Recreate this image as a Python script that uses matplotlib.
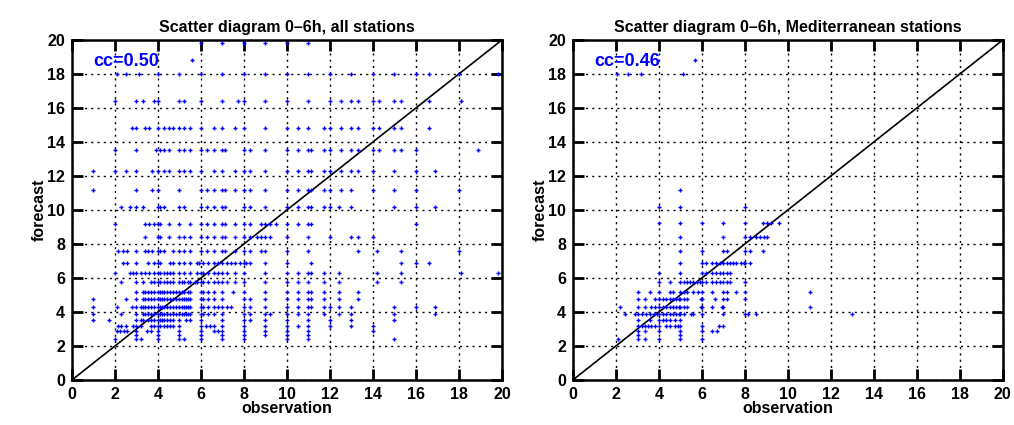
import numpy as np
import matplotlib.pyplot as plt

plt.rcParams['font.family'] = ['Liberation Sans', 'DejaVu Sans']

# forecast levels (rows of points), top to bottom
fc_all = [19.8, 18.8, 18.0, 16.4, 14.85, 13.5, 12.3, 11.2, 10.2, 9.2, 8.4, 7.6,
          6.9, 6.3, 5.75, 5.2, 4.75, 4.3, 3.9, 3.55, 3.2, 2.9, 2.65, 2.4]

# observation values found on each forecast row, all stations
obs_all = [
    [6, 7, 8, 9, 10, 11],
    [5.6],
    [2.1, 2.5, 3.1, 4, 5, 6, 7, 8, 9, 10, 11, 12, 13, 14, 15, 16, 16.6, 18, 19.8],
    [2, 3, 3.3, 3.8, 4, 5, 5.2, 6, 7, 7.7, 8, 9, 10, 11, 12, 12.5, 13, 13.3, 14,
     14.3, 15, 15.3, 16.6, 18.1],
    [2.8, 3, 3.4, 3.6, 4, 4.3, 4.5, 4.7, 5, 5.2, 5.5, 6, 6.6, 7, 7.6, 8, 9, 10,
     10.5, 11, 11.7, 12, 12.5, 13, 13.3, 14, 14.3, 15, 15.3, 16.6],
    [2, 3, 3.9, 4.1, 4.3, 4.5, 5, 5.2, 5.5, 6, 6.3, 6.6, 7, 7.1, 8, 8.3, 9, 10,
     10.5, 11, 11.1, 11.7, 12, 12.5, 13, 13.3, 14, 14.3, 15, 15.3, 16, 18.9],
    [1, 2, 2.5, 3, 3.7, 4, 4.3, 4.5, 5, 5.2, 5.5, 6, 6.6, 7, 7.6, 8, 8.3, 9, 10,
     10.5, 11, 11.1, 11.7, 12, 12.5, 13, 13.3, 14, 15, 16, 16.9],
    [1, 3, 3.7, 4, 5, 6, 6.3, 6.6, 7, 7.1, 7.6, 8, 8.3, 9, 10, 10.5, 11, 11.1,
     11.7, 12, 12.5, 13, 14, 15, 16, 18],
    [2.3, 2.7, 3, 3.3, 4, 4.1, 4.3, 5, 5.2, 6, 6.3, 6.6, 7, 7.1, 8, 8.3, 9, 10,
     10.5, 11, 11.1, 11.7, 12, 12.4, 13, 15, 16, 16.9],
    [2, 3.4, 3.6, 3.8, 4, 4.1, 4.5, 5, 5.5, 6, 6.3, 6.6, 7, 7.1, 7.6, 8, 8.3, 8.8,
     9, 9.2, 9.5, 10, 10.5, 11, 11.1, 16],
    [3.4, 4, 4.1, 4.5, 5, 5.2, 5.5, 6, 6.3, 6.6, 7, 7.1, 7.6, 8, 8.3, 8.6, 8.8, 9,
     9.2, 10, 11, 12, 13, 13.3, 14],
    [2.15, 2.35, 2.55, 3, 3.4, 3.55, 3.7, 4, 4.1, 4.3, 4.7, 5, 5.2, 5.5, 6, 6.3,
     6.6, 7, 7.1, 7.6, 8, 8.3, 8.8, 9, 10, 11, 13.3, 14.2, 15.3, 18],
    [2.35, 2.55, 3, 3.55, 3.8, 4, 4.1, 4.55, 4.7, 5, 5.2, 5.5, 5.8, 5.9, 6.1, 6.35,
     6.6, 6.8, 7, 7.2, 7.4, 7.6, 7.8, 8, 8.1, 8.3, 9, 10, 11.1, 15.3, 16, 16.6],
    [2, 2.7, 2.85, 3, 3.2, 3.4, 3.6, 3.8, 4, 4.1, 4.3, 4.4, 4.55, 4.7, 5, 5.2, 5.5,
     5.8, 6, 6.1, 6.35, 6.6, 6.8, 7, 7.2, 7.6, 8, 9, 10, 10.5, 11, 11.1, 11.7,
     12.4, 14.2, 15.3, 18.1, 19.8],
    [2.3, 3, 3.3, 3.66, 3.8, 4, 4.1, 4.3, 4.4, 4.55, 4.7, 5, 5.1, 5.2, 5.4, 5.5,
     5.7, 5.8, 6, 6.1, 6.35, 6.6, 6.8, 7, 7.2, 7.6, 8, 9, 10, 10.5, 11, 11.7,
     12.4, 14.2, 15.3],
    [3, 3.3, 3.4, 3.55, 3.66, 3.8, 4, 4.1, 4.2, 4.3, 4.4, 4.55, 4.7, 4.85, 5, 5.1,
     5.2, 5.4, 5.5, 6, 6.1, 6.35, 6.6, 7, 7.5, 8, 9, 10, 10.5, 11, 11.1, 11.7,
     12.4, 13.3],
    [1, 2.5, 3, 3.3, 3.4, 3.55, 3.66, 3.8, 4, 4.1, 4.2, 4.3, 4.4, 4.55, 4.7, 4.85,
     5, 5.1, 5.2, 5.3, 5.4, 5.5, 6, 6.1, 6.35, 6.6, 7, 8, 8.3, 9, 10, 10.5, 11,
     11.1, 11.7, 12.4, 13.3],
    [1, 2.1, 2.8, 3, 3.2, 3.3, 3.4, 3.55, 3.66, 3.8, 4, 4.1, 4.2, 4.3, 4.4, 4.55,
     4.7, 4.85, 5, 5.1, 5.2, 5.3, 5.4, 5.5, 6, 6.1, 6.35, 6.6, 6.8, 7, 7.2, 7.4,
     8, 8.3, 9, 10, 10.5, 11, 11.1, 11.7, 12, 12.4, 13, 15, 16, 16.9],
    [1, 2.3, 3, 3.3, 3.4, 3.55, 3.66, 3.8, 4, 4.1, 4.2, 4.3, 4.4, 4.55, 4.7, 4.85,
     5, 5.1, 5.2, 5.3, 5.4, 5.5, 6, 6.1, 6.35, 6.6, 7, 8, 8.3, 9, 9.2, 10, 10.5,
     11, 11.7, 12.4, 13, 15, 16.9],
    [1, 1.7, 3, 3.2, 3.3, 3.55, 3.66, 3.8, 4, 4.1, 4.2, 4.3, 4.4, 4.55, 4.7, 5,
     5.3, 5.5, 6, 7, 8, 8.3, 9, 10, 11, 12, 13, 15],
    [2.15, 2.3, 2.5, 2.85, 3, 3.2, 3.66, 3.8, 4, 4.1, 4.3, 4.4, 4.55, 4.7, 5, 6,
     6.25, 6.4, 6.6, 7, 8, 9, 10, 10.5, 11, 12, 13, 14],
    [2.1, 2.25, 2.4, 2.55, 3, 3.5, 3.66, 4, 5, 6, 6.6, 6.8, 7, 8, 9, 10, 11, 14],
    [3, 4, 5, 6, 7, 8, 9, 10, 11],
    [2, 3, 3.2, 4, 5, 5.2, 6, 7, 8, 10, 11, 15],
]

# Mediterranean stations
fc_med = [18.8, 18.0, 11.2, 10.2, 9.25, 8.4, 7.6, 6.9, 6.3, 5.75, 5.2, 4.75,
          4.3, 3.9, 3.55, 3.2, 2.9, 2.65, 2.4]
obs_med = [
    [5.7],
    [2.05, 2.55, 3.15, 5.1],
    [5],
    [4, 5, 8],
    [4, 5, 6, 7, 8, 8.85, 9.05, 9.2, 9.6],
    [5, 7, 8, 8.25, 8.5, 8.7, 8.9, 9.05],
    [5, 6, 7, 7.15, 8, 8.25, 8.85],
    [5, 6, 6.2, 6.45, 6.65, 6.85, 7, 7.15, 7.3, 7.45, 7.6, 7.8, 7.95, 8, 8.25],
    [4, 5, 6, 6.2, 6.45, 6.65, 6.85, 7, 7.15, 7.3],
    [4, 4.5, 5, 5.15, 5.3, 5.45, 5.6, 5.75, 5.9, 6, 6.2, 6.45, 6.65, 6.85, 7,
     7.15, 7.3, 8],
    [3.05, 3.6, 4, 4.5, 4.65, 5, 5.15, 5.3, 5.6, 5.8, 6, 6.45, 7, 7.15, 7.6, 8,
     11.05],
    [3.05, 3.35, 3.8, 4, 4.2, 4.35, 4.5, 4.65, 4.8, 4.95, 5, 5.15, 5.3, 5.95, 6,
     6.6, 7, 7.15, 8],
    [2.2, 3.05, 3.35, 3.65, 3.8, 4, 4.2, 4.35, 4.5, 4.65, 4.8, 4.95, 5, 5.15, 5.3,
     5.95, 6, 6.45, 6.95, 7, 11.05],
    [2.4, 2.9, 3.05, 3.2, 3.4, 3.6, 3.75, 3.9, 4, 4.2, 4.35, 4.5, 4.65, 4.8, 4.95,
     5, 5.15, 5.5, 5.6, 6, 7, 8, 8.15, 8.5, 13],
    [3.05, 3.6, 4, 4.2, 4.35, 4.5, 4.75, 5],
    [3.05, 3.2, 3.35, 3.5, 3.65, 3.8, 4, 4.35, 4.5, 4.75, 4.9, 5, 6, 6.8, 7],
    [3.05, 3.35, 4, 5, 6, 6.45, 6.7],
    [3.05, 5],
    [2.1, 3.05, 3.35, 4, 5, 6],
]

titles = ['Scatter diagram 0\u20136h, all stations',
          'Scatter diagram 0\u20136h, Mediterranean stations']
cc_labels = ['cc=0.50', 'cc=0.46']

fig = plt.figure(figsize=(10.14, 4.25), dpi=100)
ax1 = fig.add_axes([0.071, 0.106, 0.424, 0.8])
ax2 = fig.add_axes([0.565, 0.106, 0.424, 0.8])

for ax, fcs, obs, title, cc in zip([ax1, ax2], [fc_all, fc_med], [obs_all, obs_med],
                                   titles, cc_labels):
    xs = []
    ys = []
    for f, row in zip(fcs, obs):
        xs += row
        ys += [f] * len(row)
    ax.plot(xs, ys, '+', color='#0000ff', markersize=3.5, mew=1.0, zorder=3)
    ax.plot([0, 20], [0, 20], color='black', lw=1.2, zorder=2)
    ax.set_xlim(0, 20)
    ax.set_ylim(0, 20)
    ax.set_xticks(np.arange(0, 21, 2))
    ax.set_yticks(np.arange(0, 21, 2))
    ax.grid(True, color='black', linestyle=(0, (1.5, 3)), lw=1.0)
    ax.tick_params(direction='in', length=8, width=2, top=True, right=True,
                   labelsize=11.5, pad=5)
    for lab in ax.get_xticklabels() + ax.get_yticklabels():
        lab.set_fontweight('bold')
    for s in ax.spines.values():
        s.set_linewidth(1.8)
    ax.set_xlabel('observation', fontsize=11.5, fontweight='bold', labelpad=-1)
    ax.set_ylabel('forecast', fontsize=11.5, fontweight='bold', labelpad=0)
    ax.set_title(title, fontsize=11.5, fontweight='bold', pad=6)
    ax.text(1.0, 18.45, cc, color='#0000ff', fontsize=13, fontweight='bold')

fig.savefig('out.png', dpi=100)
